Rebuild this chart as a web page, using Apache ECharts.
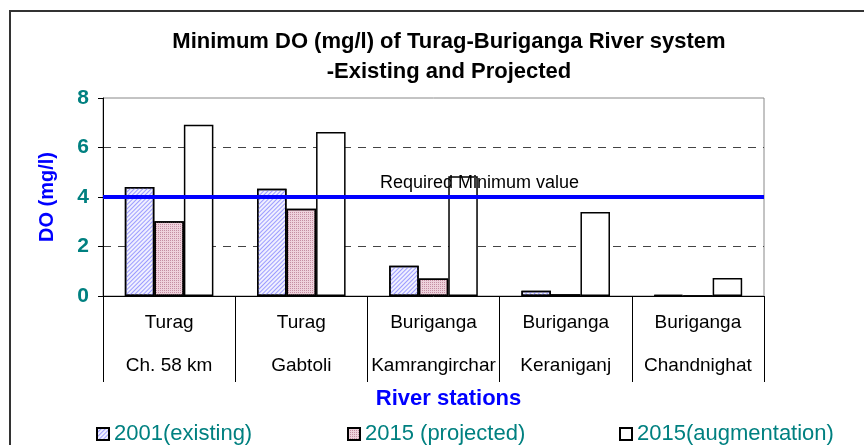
<!DOCTYPE html>
<html>
<head>
	<meta charset="UTF-8">
	<title>Minimum DO - Turag-Buriganga</title>
	<script type="text/javascript" src="https://cdn.jsdelivr.net/npm/echarts@6/dist/echarts.min.js"></script>
	<style>
		body { margin: 0; background: #fff; }
		#show { width: 864px; height: 445px; }
	</style>
</head>
<body>
<div id="show"></div>

<script type="text/javascript">
	// river / station pairs for the x axis
	var rivers = ['Turag', 'Turag', 'Buriganga', 'Buriganga', 'Buriganga'];
	var stations = ['Ch. 58 km', 'Gabtoli', 'Kamrangirchar', 'Keraniganj', 'Chandnighat'];

	// minimum DO values (mg/l)
	var existing2001 = [4.40, 4.33, 1.22, 0.21, 0.05];
	var projected2015 = [3.02, 3.53, 0.71, 0.07, 0];
	var augment2015 = [6.92, 6.63, 4.84, 3.39, 0.73];

	var requiredMin = 4;
	var yTicks = [0, 2, 4, 6, 8];

	var names = ['2001(existing)', '2015 (projected)', '2015(augmentation)'];

	var cats = rivers.map(function (r, i) { return r + '\n' + stations[i]; });

	var myChart = echarts.init(document.getElementById('show'));

	var font = 'Liberation Sans, Arial, sans-serif';

	function legendAt(name, left) {
		return {
			data: [name],
			left: left,
			top: 418,
			icon: 'rect',
			itemWidth: 12,
			itemHeight: 12,
			itemGap: 0,
			textStyle: { color: '#008080', fontSize: 22, fontFamily: font }
		};
	}

	option = {
		animation: false,
		backgroundColor: '#fff',
		graphic: [{
			type: 'rect',
			z: -10,
			shape: { x: 10, y: 11, width: 900, height: 500 },
			style: { fill: null, stroke: '#333', lineWidth: 2 }
		}],
		title: {
			text: 'Minimum DO (mg/l) of Turag-Buriganga River system\n-Existing and Projected',
			left: 444,
			textAlign: 'center',
			top: 22,
			textStyle: {
				fontSize: 22, fontWeight: 'bold', color: '#000',
				fontFamily: font, lineHeight: 30
			}
		},
		legend: [
			legendAt(names[0], 91),
			legendAt(names[1], 342),
			legendAt(names[2], 614)
		],
		grid: { left: 103, right: 100, top: 98, bottom: 149, show: true, borderColor: '#888', borderWidth: 1 },
		xAxis: {
			type: 'category',
			data: cats,
			name: 'River stations',
			nameLocation: 'middle',
			nameGap: 92,
			nameTextStyle: { color: '#0000ff', fontSize: 22, fontWeight: 'bold', fontFamily: font, padding: [0, 0, 0, 30] },
			axisLine: { lineStyle: { color: '#000', width: 1 } },
			axisTick: { show: true, length: 86, interval: 0, alignWithLabel: false, lineStyle: { color: '#000' } },
			axisLabel: {
				interval: 0,
				margin: 5,
				color: '#000',
				fontSize: 19,
				fontFamily: font,
				lineHeight: 43
			}
		},
		yAxis: {
			type: 'value',
			min: yTicks[0],
			max: yTicks[yTicks.length - 1],
			interval: 2,
			name: 'DO (mg/l)',
			nameLocation: 'middle',
			nameGap: 46,
			nameTextStyle: { color: '#0000ff', fontSize: 20, fontWeight: 'bold', fontFamily: font },
			axisLine: { show: true, lineStyle: { color: '#000' } },
			axisTick: { show: true, length: 5, lineStyle: { color: '#000' } },
			axisLabel: { color: '#008080', fontSize: 21, fontWeight: 'bold', fontFamily: font, margin: 14 },
			splitLine: {
				show: true,
				showMinLine: false,
				showMaxLine: false,
				lineStyle: { color: '#444', type: [8, 7], width: 1 }
			}
		},
		series: [
			{
				name: names[0],
				type: 'bar',
				data: existing2001,
				barGap: '0%',
				barCategoryGap: '33%',
				itemStyle: {
					color: '#f0f0ff',
					borderColor: '#000',
					borderWidth: 1.5,
					decal: {
						symbol: 'rect',
						color: '#9c9cff',
						dashArrayX: [1, 0],
						dashArrayY: [1, 2],
						rotation: -Math.PI / 4,
						symbolSize: 1
					}
				},
				markLine: {
					silent: true,
					symbol: ['none', 'none'],
					z: 10,
					data: [{ yAxis: requiredMin }],
					lineStyle: { color: '#0000ff', width: 4, type: 'solid' },
					label: {
						show: true,
						position: 'insideMiddleTop',
						formatter: 'Required Minimum value',
						color: '#000',
						fontSize: 18,
						fontFamily: font,
						padding: [0, 0, 0, 92],
						distance: 5
					}
				}
			},
			{
				name: names[1],
				type: 'bar',
				data: projected2015,
				itemStyle: {
					color: '#eed2dc',
					borderColor: '#000',
					borderWidth: 1.5,
					decal: {
						symbol: 'rect',
						color: '#c48ea2',
						dashArrayX: [1, 1],
						dashArrayY: [1, 1],
						symbolSize: 1
					}
				}
			},
			{
				name: names[2],
				type: 'bar',
				data: augment2015,
				itemStyle: { color: '#fff', borderColor: '#000', borderWidth: 1.5 }
			}
		]
	};

	myChart.setOption(option);
</script>
</body>
</html>
